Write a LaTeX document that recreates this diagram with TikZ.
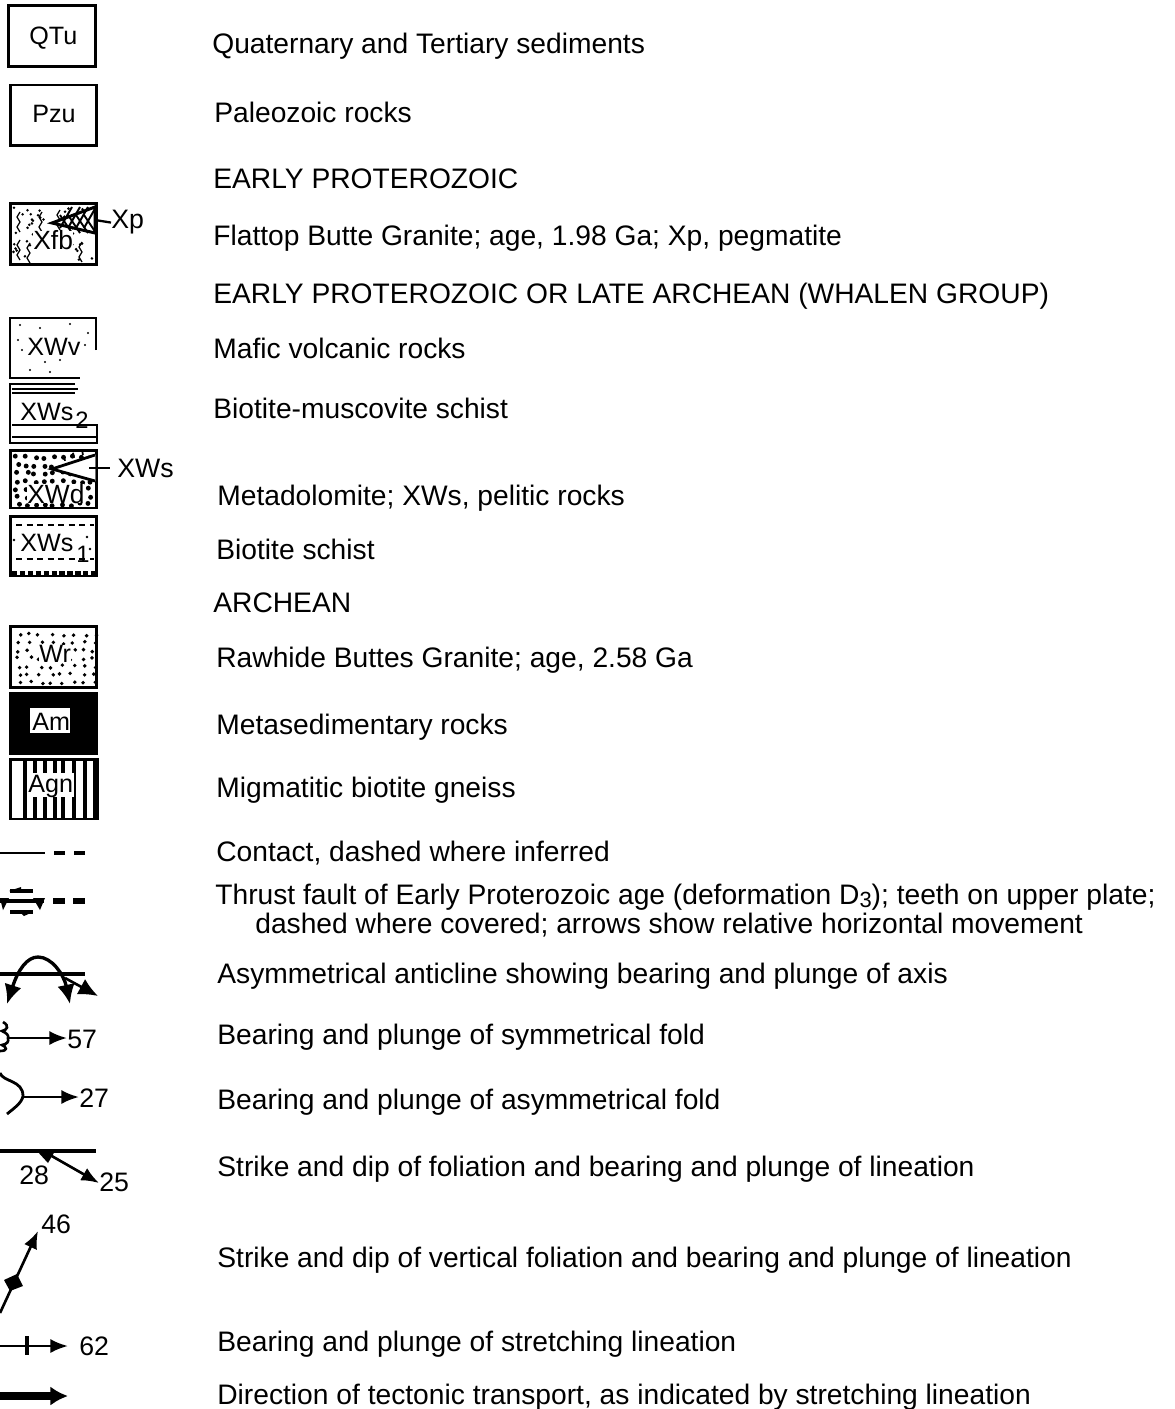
\documentclass[tikz,border=0pt]{standalone}
\usepackage{fontspec}
\setmainfont{Liberation Sans}
\usetikzlibrary{arrows.meta}
\tikzset{
    legtext/.style={anchor=base west, inner sep=0pt, yshift=-0.02cm, font=\fontsize{16.05}{18}\selectfont},
    boxlabel/.style={anchor=base west, inner sep=0pt, font=\fontsize{14.3}{16}\selectfont},
    biglabel/.style={anchor=base west, inner sep=0pt, font=\fontsize{15}{16}\selectfont},
    sublabel/.style={anchor=base west, inner sep=0pt, font=\fontsize{13.5}{14}\selectfont},
    numlabel/.style={anchor=base west, inner sep=0pt, font=\fontsize{15.2}{16}\selectfont},
    legbox/.style={draw, line width=1.7pt, minimum width=1.74cm, minimum height=1.22cm, inner sep=0pt},
    contactline/.style={line width=1.5pt},
    foldarrow/.style={line width=1.5pt, -{Latex[length=10pt,width=8pt]}},
    antiarrow/.style={line width=1.9pt, -{Latex[length=11pt,width=10pt]}},
    speck/.style={fill=black}
}
\begin{document}
\begin{tikzpicture}[x=0.02cm, y=-0.02cm]
    \useasboundingbox (0,0) rectangle (1174,1409);

    % plain boxes
    \node[legbox] (qtubox) at (52,36) {};
    \node[boxlabel] (qtu) at (29,45) {QTu};
    \node[legbox] (pzubox) at (53.5,115.5) {};
    \node[boxlabel] (pzu) at (32,123) {Pzu};

    % granite Xfb
    \node[legbox] (xfbbox) at (53.5,234) {};
    \pgfmathsetseed{11}
    \foreach \x/\y in {20/212,42/212,60/210,20/240,30/243,82/242} {
        \draw[line width=0.7pt] (\x,\y) -- ++(-3,5) -- ++(3,5) -- ++(-3,5) -- ++(3,5);
    };
    \foreach \n in {1,...,50} {
        \fill ({13+rnd*81},{207+rnd*54}) circle (0.8pt);};
    \filldraw[fill=white, line width=1.7pt] (52,223) -- (95,207) -- (95,233) -- cycle;
    \foreach \x in {60,68,76,84} {
        \draw[line width=1.1pt] (\x,215) -- (\x+12,233);
        \draw[line width=1.1pt] (\x,228) -- (\x+12,207);};
    \node[biglabel, fill=white] (xfb) at (33,250) {Xfb};
    \node[numlabel] (xp) at (111,229) {Xp};
    \coordinate (xpedge) at (95,220);
    \draw[line width=1.3pt] (xpedge) -- (xp.west);

    % volcanic rocks XWv, open corner
    \draw[line width=1.7pt] (96,350) -- (96,318) -- (10,318) -- (10,378) -- (80,378);
    \foreach \a/\b in {20/325,40/328,70/324,88/333,22/350,85/345,30/370,50/372,45/362,60/360,18/340} {
        \fill (\a,\b) circle (0.6pt);};
    \node[boxlabel] (xwv) at (27,355) {XWv};

    % schist XWs2
    \draw[line width=1.7pt] (75,384) -- (10,384) -- (10,443) -- (97,443) -- (97,425) -- (12,425);
    \draw[line width=1.1pt] (12,389) -- (78,389);
    \draw[line width=1.1pt] (12,393) -- (75,393);
    \draw[line width=1.1pt] (12,437) -- (97,437);
    \node[boxlabel] (xws2) at (20,420) {XWs};
    \node[sublabel] (xws2sub) at (75,428) {2};

    % metadolomite XWd
    \node[legbox, minimum height=1.16cm] (xwdbox) at (53.5,479) {};
    \pgfmathsetseed{5}
    \foreach \y in {456,464,472,480,488,496,503} {
        \foreach \x in {15,24,...,92} {
            \fill[speck] ({\x+rnd*5},{\y+rnd*3}) circle (1.4pt);};};
    \filldraw[fill=white, draw=white] (54,469) -- (95,455) -- (95,481) -- cycle;
    \draw[line width=1.6pt] (95,455) -- (52,469) -- (95,481);
    \foreach \x in {65,74,83} {
        \draw[line width=1pt] (\x,\x/-3+482.5) -- ++(-1,-5);};
    \node[biglabel, fill=white] (xwd) at (27,503) {XWd};
    \node[numlabel] (xws) at (117,477) {XWs};
    \coordinate (xwsedge) at (89,468);
    \draw[line width=1.3pt] (xwsedge) -- (110,468);

    % schist XWs1
    \node[legbox, minimum height=1.2cm] (xws1box) at (53.5,546) {};
    \draw[line width=1.4pt, dash pattern=on 3.5pt off 2.5pt] (16,525) -- (94,525);
    \draw[line width=1.4pt, dash pattern=on 3.5pt off 2.5pt] (16,559) -- (94,559);
    \draw[line width=2pt, dash pattern=on 3pt off 1.5pt] (12,573) -- (96,573);
    \fill (87,537) circle (0.8pt) (90,549) circle (0.8pt) (14,540) circle (0.8pt);
    \node[boxlabel] (xws1) at (20,551) {XWs};
    \node[sublabel] (xws1sub) at (76,562) {1};

    % granite Wr
    \node[legbox, minimum height=1.22cm] (wrbox) at (53.5,657) {};
    \pgfmathsetseed{3}
    \foreach \y in {633,641,...,683} {
        \foreach \x in {15,26,...,92} {
            \fill[speck] ({\x+rnd*6},{\y+rnd*3}) circle (1.1pt);};};
    \node[boxlabel, fill=white] (wr) at (39,662) {Wr};

    % metasedimentary rocks Am
    \node[legbox, fill=black, minimum height=1.22cm] (ambox) at (53.5,723.5) {};
    \fill[white] (30,708) rectangle (70,733);
    \node[boxlabel] (am) at (32,730) {Am};

    % gneiss Agn
    \node[legbox, minimum height=1.2cm] (agnbox) at (54,789) {};
    \foreach \x in {25,35,45,55,63,74,85,95} {
        \draw[line width=2pt] (\x,760) -- (\x,818);};
    \fill[white] (28,773) rectangle (74,797);
    \node[boxlabel] (agn) at (28,792) {Agn};

    % contact
    \coordinate (contactl) at (0,853);
    \coordinate (contactr) at (45,853);
    \draw[contactline] (contactl) -- (contactr);
    \draw[contactline, line width=1.8pt] (54,853) -- (65,853);
    \draw[contactline, line width=1.8pt] (74,853) -- (85,853);

    % thrust fault
    \draw[line width=2.8pt] (0,901) -- (44,901);
    \fill (0,898) -- (9,898) -- (3,910) -- cycle;
    \fill (33,898) -- (45,898) -- (40,910) -- cycle;
    \draw[line width=3.4pt] (53,901) -- (65,901);
    \draw[line width=3.4pt] (73,901) -- (85,901);
    \draw[line width=1.8pt] (10,891) -- (33,891);
    \fill (9,891) -- (21,887) -- (21,891) -- cycle;
    \draw[line width=1.8pt] (10,912) -- (33,912);
    \fill (33,912) -- (20,912) -- (24,916) -- cycle;

    % anticline
    \draw[line width=1.9pt] (0,974) -- (85,974);
    \coordinate (antitop) at (38,957);
    \draw[antiarrow] (antitop) .. controls (27,957) and (18,970) .. (7,1004);
    \draw[antiarrow] (antitop) .. controls (52,957) and (64,975) .. (70,1004);
    \draw[antiarrow, line width=1.5pt] (65,978) -- (98,996);

    % symmetrical fold
    \draw[line width=1.5pt] (3,1022) .. controls (10,1026) and (7,1030) .. (2,1031)
        .. controls (7,1033) and (9,1036) .. (8,1038)
        .. controls (9,1042) and (7,1044) .. (2,1045)
        .. controls (7,1047) and (8,1051) .. (0,1051);
    \node[numlabel] (sym) at (67,1048) {57};
    \draw[foldarrow] (8,1038) -- (sym.west |- 0,1038);

    % asymmetrical fold
    \draw[line width=1.6pt] (0,1073) .. controls (3,1082) and (23,1080) .. (23,1096)
        .. controls (22,1103) and (13,1109) .. (7,1114);
    \node[numlabel] (asym) at (79,1107) {27};
    \draw[foldarrow] (23,1097) -- (asym.west |- 0,1097);

    % foliation and lineation
    \draw[line width=1.8pt] (0,1151) -- (96,1151);
    \fill (37,1151) -- (55,1151) -- (48,1163) -- cycle;
    \node[numlabel] (foldip) at (19,1184) {28};
    \node[numlabel] (linplunge) at (99,1191) {25};
    \draw[foldarrow] (50,1155) -- (linplunge.west |- 0,1183);

    % vertical foliation
    \node[numlabel] (vertplunge) at (41,1233) {46};
    \coordinate (vertfoot) at (0,1313);
    \draw[foldarrow] (vertfoot) -- (38,1231);
    \fill (4,1280) -- (17,1274) -- (23,1286) -- (10,1291) -- cycle;

    % stretching lineation
    \node[numlabel] (stretch) at (79,1355) {62};
    \draw[foldarrow] (0,1346) -- (68,1346);
    \draw[line width=2pt] (27,1336) -- (27,1355);

    % tectonic transport
    \coordinate (transl) at (0,1396);
    \coordinate (transr) at (68,1396);
    \draw[line width=5pt, -{Latex[length=10pt,width=11pt]}] (transl) -- (transr);

    % explanation
    \node[legtext] (t1) at (212,53) {Quaternary and Tertiary sediments};
    \node[legtext] (t2) at (214,122) {Paleozoic rocks};
    \node[legtext] (t3) at (213,188) {EARLY PROTEROZOIC};
    \node[legtext] (t4) at (213,244) {Flattop Butte Granite; age, 1.98 Ga; Xp, pegmatite};
    \node[legtext] (t5) at (213,302) {EARLY PROTEROZOIC OR LATE ARCHEAN (WHALEN GROUP)};
    \node[legtext] (t6) at (213,357) {Mafic volcanic rocks};
    \node[legtext] (t7) at (213,417) {Biotite-muscovite schist};
    \node[legtext] (t8) at (217,504) {Metadolomite; XWs, pelitic rocks};
    \node[legtext] (t9) at (216,558) {Biotite schist};
    \node[legtext] (t10) at (213,611) {ARCHEAN};
    \node[legtext] (t11) at (216,666) {Rawhide Buttes Granite; age, 2.58 Ga};
    \node[legtext] (t12) at (216,733) {Metasedimentary rocks};
    \node[legtext] (t13) at (216,796) {Migmatitic biotite gneiss};
    \node[legtext] (t14) at (216,860) {Contact, dashed where inferred};
    \node[legtext] (t15) at (215,903) {Thrust fault of Early Proterozoic age (deformation D\smash{\raisebox{-2pt}{\fontsize{12.5}{13}\selectfont 3}}); teeth on upper plate;};
    \node[legtext] (t16) at (255,932) {dashed where covered; arrows show relative horizontal movement};
    \node[legtext] (t17) at (217,982) {Asymmetrical anticline showing bearing and plunge of axis};
    \node[legtext] (t18) at (217,1043) {Bearing and plunge of symmetrical fold};
    \node[legtext] (t19) at (217,1108) {Bearing and plunge of asymmetrical fold};
    \node[legtext] (t20) at (217,1175) {Strike and dip of foliation and bearing and plunge of lineation};
    \node[legtext] (t21) at (217,1266) {Strike and dip of vertical foliation and bearing and plunge of lineation};
    \node[legtext] (t22) at (217,1350) {Bearing and plunge of stretching lineation};
    \node[legtext] (t23) at (217,1403) {Direction of tectonic transport, as indicated by stretching lineation};
\end{tikzpicture}
\end{document}
